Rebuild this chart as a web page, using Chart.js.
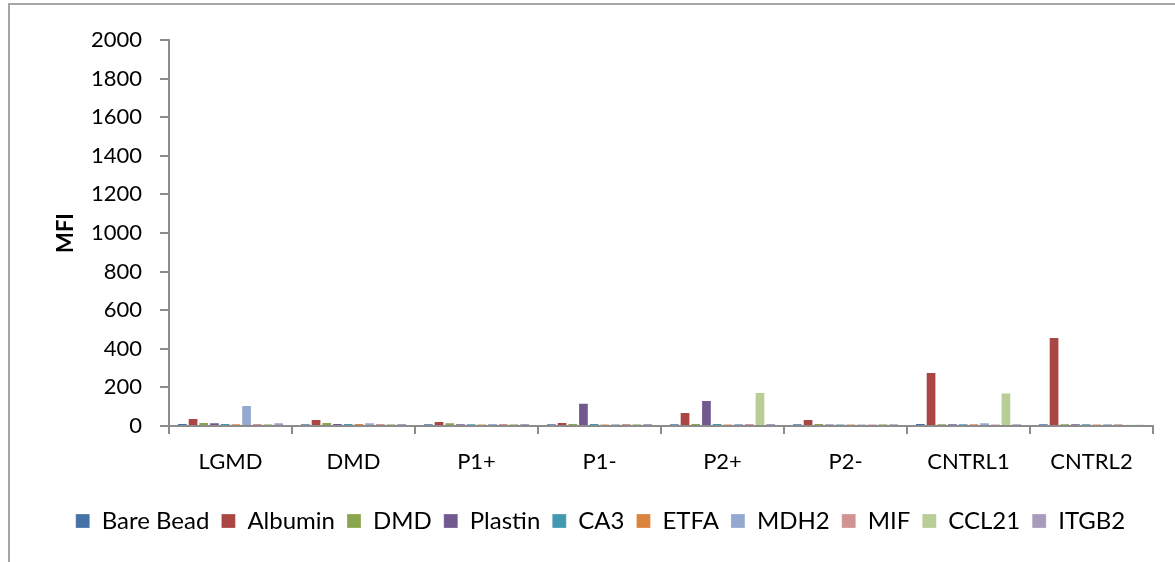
<!DOCTYPE html>
<html>
<head>
<meta charset="utf-8">
<script src="https://cdn.jsdelivr.net/npm/chart.js@4/dist/chart.umd.min.js"></script>
<style>
  html, body { margin: 0; padding: 0; background: #fff; }
  #frame {
    position: absolute; left: 8px; top: 3px; width: 1167px; height: 559px;
    border-left: 2px solid #a6a6a6; border-top: 2px solid #a6a6a6;
  }
  #wrap { position: absolute; left: 0; top: 0; width: 1175px; height: 562px; }
</style>
</head>
<body>
<div id="frame"></div>
<div id="wrap"><canvas id="c" width="1175" height="562"></canvas></div>
<script>
// Sample groups along the category axis
const categories = ['LGMD', 'DMD', 'P1+', 'P1-', 'P2+', 'P2-', 'CNTRL1', 'CNTRL2'];

// MFI per bead, one value per sample group
const bareBead = [15, 12, 12, 12, 12, 12, 15, 14];
const albumin  = [42, 36, 26, 21, 72, 36, 280, 461];
const dmd      = [21, 21, 20, 15, 15, 15, 14, 14];
const plastin  = [20, 15, 12, 121, 135, 11, 14, 14];
const ca3      = [15, 15, 12, 15, 15, 11, 14, 14];
const etfa     = [12, 15, 11, 11, 11, 11, 14, 10];
const mdh2     = [109, 20, 16, 12, 16, 11, 19, 14];
const mif      = [15, 16, 16, 16, 16, 11, 10, 14];
const ccl21    = [15, 16, 16, 16, 176, 16, 173, 9];
const itgb2    = [20, 16, 16, 16, 15, 12, 14, 9];

// Y axis tick values
const yTicks = [0, 200, 400, 600, 800, 1000, 1200, 1400, 1600, 1800, 2000];

const series = [
  ['Bare Bead', bareBead, '#4572A7'],
  ['Albumin',   albumin,  '#AA4643'],
  ['DMD',       dmd,      '#89A54E'],
  ['Plastin',   plastin,  '#71588F'],
  ['CA3',       ca3,      '#4198AF'],
  ['ETFA',      etfa,     '#DB843D'],
  ['MDH2',      mdh2,     '#93A9CF'],
  ['MIF',       mif,      '#D19392'],
  ['CCL21',     ccl21,    '#B9CD96'],
  ['ITGB2',     itgb2,    '#A99BBD']
];

const FONT = 'Lato, "Open Sans", sans-serif';
const axisGray = '#8c8c8c';

new Chart(document.getElementById('c'), {
  type: 'bar',
  data: {
    labels: categories,
    datasets: series.map(([label, values, color]) => ({
      label,
      data: values,
      backgroundColor: color,
      borderColor: 'rgba(255,255,255,0.35)',
      borderWidth: { top: 1, left: 1, right: 1, bottom: 0 },
      categoryPercentage: 0.87,
      barPercentage: 1.0
    }))
  },
  options: {
    responsive: false,
    animation: false,
    layout: { padding: { left: 48, top: 40, right: 22, bottom: 19 } },
    plugins: {
      tooltip: { enabled: false },
      legend: {
        position: 'bottom',
        labels: {
          color: '#000',
          font: { family: FONT, size: 24 },
          boxWidth: 14,
          boxHeight: 14,
          padding: 12
        }
      }
    },
    scales: {
      x: {
        grid: {
          display: true, offset: true, drawOnChartArea: false,
          tickLength: 8, color: axisGray, lineWidth: 2
        },
        border: { display: true, color: axisGray, width: 2 },
        ticks: { color: '#000', font: { family: FONT, size: 22 }, padding: 15 },
        afterFit: s => { s.height = 71; }
      },
      y: {
        min: 0, max: 2000,
        afterBuildTicks: s => { s.ticks = yTicks.map(v => ({ value: v })); },
        grid: {
          display: true, drawOnChartArea: false,
          tickLength: 9, color: axisGray, lineWidth: 2
        },
        border: { display: true, color: axisGray, width: 2 },
        ticks: {
          color: '#000', font: { family: FONT, size: 22 }, padding: 18,
          callback: v => String(v)
        },
        title: {
          display: true, text: 'MFI', color: '#000',
          font: { family: FONT, size: 22, weight: 'bold' }, padding: { top: 5, bottom: 4 }
        },
        afterFit: s => { s.width = 169 - 48; }
      }
    }
  }
});
</script>
</body>
</html>
